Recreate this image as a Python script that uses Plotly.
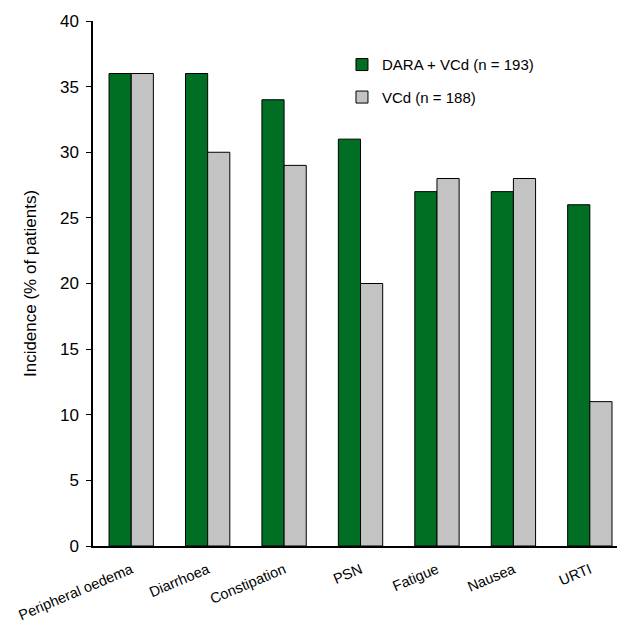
import plotly.graph_objects as go

categories = ["Peripheral oedema", "Diarrhoea", "Constipation", "PSN", "Fatigue", "Nausea", "URTI"]
dara_vcd = [36, 36, 34, 31, 27, 27, 26]
vcd = [36, 30, 29, 20, 28, 28, 11]
series_names = ["DARA + VCd (n = 193)", "VCd (n = 188)"]
y_ticks = [0, 5, 10, 15, 20, 25, 30, 35, 40]

fig = go.Figure()
fig.add_trace(go.Bar(x=categories, y=dara_vcd, name=series_names[0],
                     marker=dict(color="#006E23", line=dict(color="black", width=1)),
                     legendgroup="a"))
fig.add_trace(go.Bar(x=categories, y=vcd, name=series_names[1],
                     marker=dict(color="#C3C3C3", line=dict(color="black", width=1)),
                     legendgroup="b"))

fig.update_layout(
    width=617, height=618,
    margin=dict(l=85, r=0, t=13, b=80),
    paper_bgcolor="white", plot_bgcolor="white",
    barmode="group", bargap=0.42, bargroupgap=0,
    font=dict(family="Liberation Sans, Arial", color="black", size=14),
    legend=dict(x=0.468, y=0.948, xanchor="left", yanchor="top",
                bgcolor="rgba(0,0,0,0)", font=dict(size=15),
                tracegroupgap=10, traceorder="grouped", itemwidth=30),
    xaxis=dict(range=[-0.5, 6.46], showline=True, linecolor="black", linewidth=1.5,
               ticks="outside", ticklen=8, tickcolor="rgba(0,0,0,0)",
               tickangle=-23, tickfont=dict(size=14.5), showgrid=False,
               automargin=False),
    yaxis=dict(range=[0, 40], tickvals=y_ticks, showline=True, linecolor="black",
               linewidth=1.5, ticks="outside", ticklen=5, tickcolor="black",
               tickfont=dict(size=17), showgrid=False, zeroline=False,
               ticklabelstandoff=4, automargin=False,
               title=dict(text="Incidence (% of patients)", font=dict(size=17), standoff=19)),
)

fig.write_html("out.html")
